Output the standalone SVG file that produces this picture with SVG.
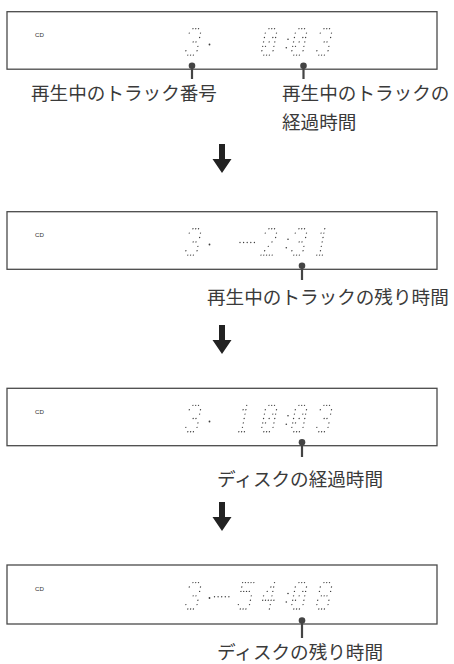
<svg xmlns="http://www.w3.org/2000/svg" xmlns:xlink="http://www.w3.org/1999/xlink" width="454" height="664" viewBox="0 0 454 664">
<style>
.box{fill:#fff;stroke:#4a4a4a;stroke-width:1.3}
.cd{font-family:"Liberation Sans",Arial,sans-serif;font-size:6.2px;fill:#333}
.lbl{font-family:"Noto Sans CJK JP","Noto Sans",sans-serif;font-size:18.6px;fill:#3a3a3a}
.dots{fill:none;stroke:#3c3c3c;stroke-width:1.35;stroke-linecap:round}
.pt{fill:#3c3c3c}
.pin{stroke:#444;stroke-width:2.2;fill:none}
.pinc{fill:#444}
.arr{fill:#222}
</style>
<defs>
<path id="g0" class="dots" d="M2.8 -26.4h0M5.6 -26.4h0M8.4 -26.4h0M0 -22h0M11.2 -22h0M0 -17.6h0M8.4 -17.6h0M11.2 -17.6h0M0 -13.2h0M5.6 -13.2h0M11.2 -13.2h0M0 -8.8h0M2.8 -8.8h0M11.2 -8.8h0M0 -4.4h0M11.2 -4.4h0M2.8 0h0M5.6 0h0M8.4 0h0"/>
<path id="g1" class="dots" d="M5.6 -26.4h0M2.8 -22h0M5.6 -22h0M5.6 -17.6h0M5.6 -13.2h0M5.6 -8.8h0M5.6 -4.4h0M2.8 0h0M5.6 0h0M8.4 0h0"/>
<path id="g2" class="dots" d="M2.8 -26.4h0M5.6 -26.4h0M8.4 -26.4h0M0 -22h0M11.2 -22h0M11.2 -17.6h0M8.4 -13.2h0M5.6 -8.8h0M2.8 -4.4h0M0 0h0M2.8 0h0M5.6 0h0M8.4 0h0M11.2 0h0"/>
<path id="g3" class="dots" d="M2.8 -26.4h0M5.6 -26.4h0M8.4 -26.4h0M0 -22h0M11.2 -22h0M11.2 -17.6h0M5.6 -13.2h0M8.4 -13.2h0M11.2 -8.8h0M0 -4.4h0M11.2 -4.4h0M2.8 0h0M5.6 0h0M8.4 0h0"/>
<path id="g4" class="dots" d="M8.4 -26.4h0M5.6 -22h0M8.4 -22h0M2.8 -17.6h0M8.4 -17.6h0M0 -13.2h0M8.4 -13.2h0M0 -8.8h0M2.8 -8.8h0M5.6 -8.8h0M8.4 -8.8h0M11.2 -8.8h0M8.4 -4.4h0M8.4 0h0"/>
<path id="g5" class="dots" d="M0 -26.4h0M2.8 -26.4h0M5.6 -26.4h0M8.4 -26.4h0M11.2 -26.4h0M0 -22h0M0 -17.6h0M2.8 -17.6h0M5.6 -17.6h0M8.4 -17.6h0M11.2 -13.2h0M11.2 -8.8h0M0 -4.4h0M11.2 -4.4h0M2.8 0h0M5.6 0h0M8.4 0h0"/>
<path id="g8" class="dots" d="M2.8 -26.4h0M5.6 -26.4h0M8.4 -26.4h0M0 -22h0M11.2 -22h0M0 -17.6h0M11.2 -17.6h0M2.8 -13.2h0M5.6 -13.2h0M8.4 -13.2h0M0 -8.8h0M11.2 -8.8h0M0 -4.4h0M11.2 -4.4h0M2.8 0h0M5.6 0h0M8.4 0h0"/>
<path id="gm" class="dots" d="M0 0h0M3.6 0h0M7.2 0h0M10.8 0h0M14.4 0h0"/>
<path id="arrow" class="arr" d="M219 0H225V15H231.5L222 29L212.5 15H219Z"/>
</defs>

<g id="display1">
<rect class="box" x="7" y="11.7" width="430" height="57.5"/>
<text class="cd" x="35" y="36.5">CD</text>
<use xlink:href="#g3" transform="translate(185 55.1) skewX(-11)"/>
<circle class="pt" cx="209.5" cy="44.5" r="0.9"/>
<use xlink:href="#g0" transform="translate(261 55.1) skewX(-11)"/>
<circle class="pt" cx="288" cy="39.2" r="0.8"/>
<circle class="pt" cx="286.3" cy="47.7" r="0.8"/>
<use xlink:href="#g0" transform="translate(291 55.1) skewX(-11)"/>
<use xlink:href="#g3" transform="translate(316 55.1) skewX(-11)"/>
<circle class="pinc" cx="192" cy="65.7" r="3.3"/>
<line class="pin" x1="192" y1="66" x2="192" y2="79"/>
<circle class="pinc" cx="303.5" cy="65.7" r="3.3"/>
<line class="pin" x1="303.5" y1="66" x2="303.5" y2="79"/>
<text class="lbl" x="31" y="100">再生中のトラック番号</text>
<text class="lbl" x="282" y="100">再生中のトラックの</text>
<text class="lbl" x="282" y="128.5">経過時間</text>
</g>

<g id="display2">
<rect class="box" x="7" y="211.7" width="430" height="57.6"/>
<text class="cd" x="35" y="237">CD</text>
<use xlink:href="#g3" transform="translate(185 255.1) skewX(-11)"/>
<circle class="pt" cx="209.5" cy="244.5" r="0.9"/>
<use xlink:href="#gm" transform="translate(240 242.5)"/>
<use xlink:href="#g2" transform="translate(261 255.1) skewX(-11)"/>
<circle class="pt" cx="288" cy="239.2" r="0.8"/>
<circle class="pt" cx="286.3" cy="247.7" r="0.8"/>
<use xlink:href="#g3" transform="translate(291 255.1) skewX(-11)"/>
<use xlink:href="#g1" transform="translate(314 255.1) skewX(-11)"/>
<circle class="pinc" cx="302" cy="265.8" r="3.3"/>
<line class="pin" x1="302" y1="266" x2="302" y2="280"/>
<text class="lbl" x="207" y="303.5">再生中のトラックの残り時間</text>
</g>

<g id="display3">
<rect class="box" x="7" y="388.3" width="430" height="57.4"/>
<text class="cd" x="35" y="413.5">CD</text>
<use xlink:href="#g3" transform="translate(185 431.7) skewX(-11)"/>
<circle class="pt" cx="209.5" cy="421.5" r="0.9"/>
<use xlink:href="#g1" transform="translate(236 431.7) skewX(-11)"/>
<use xlink:href="#g0" transform="translate(261 431.7) skewX(-11)"/>
<circle class="pt" cx="288" cy="415.8" r="0.8"/>
<circle class="pt" cx="286.3" cy="424.3" r="0.8"/>
<use xlink:href="#g0" transform="translate(291 431.7) skewX(-11)"/>
<use xlink:href="#g3" transform="translate(316 431.7) skewX(-11)"/>
<circle class="pinc" cx="302" cy="442.2" r="3.3"/>
<line class="pin" x1="302" y1="442.5" x2="302" y2="457"/>
<text class="lbl" x="217" y="486">ディスクの経過時間</text>
</g>

<g id="display4">
<rect class="box" x="7" y="565" width="430" height="59"/>
<text class="cd" x="35" y="591">CD</text>
<use xlink:href="#g3" transform="translate(185 609) skewX(-11)"/>
<circle class="pt" cx="209.5" cy="598" r="0.9"/>
<use xlink:href="#gm" transform="translate(214.5 596.7)"/>
<use xlink:href="#g5" transform="translate(237.5 609) skewX(-11)"/>
<use xlink:href="#g4" transform="translate(261 609) skewX(-11)"/>
<circle class="pt" cx="288" cy="593.5" r="0.8"/>
<circle class="pt" cx="286.3" cy="602" r="0.8"/>
<use xlink:href="#g0" transform="translate(291 609) skewX(-11)"/>
<use xlink:href="#g8" transform="translate(316 609) skewX(-11)"/>
<circle class="pinc" cx="302" cy="620.5" r="3.3"/>
<line class="pin" x1="302" y1="621" x2="302" y2="638"/>
<text class="lbl" x="217" y="659">ディスクの残り時間</text>
</g>

<g id="connectors">
<use xlink:href="#arrow" transform="translate(0 144)"/>
<use xlink:href="#arrow" transform="translate(0 325)"/>
<use xlink:href="#arrow" transform="translate(0 502)"/>
</g>
</svg>
